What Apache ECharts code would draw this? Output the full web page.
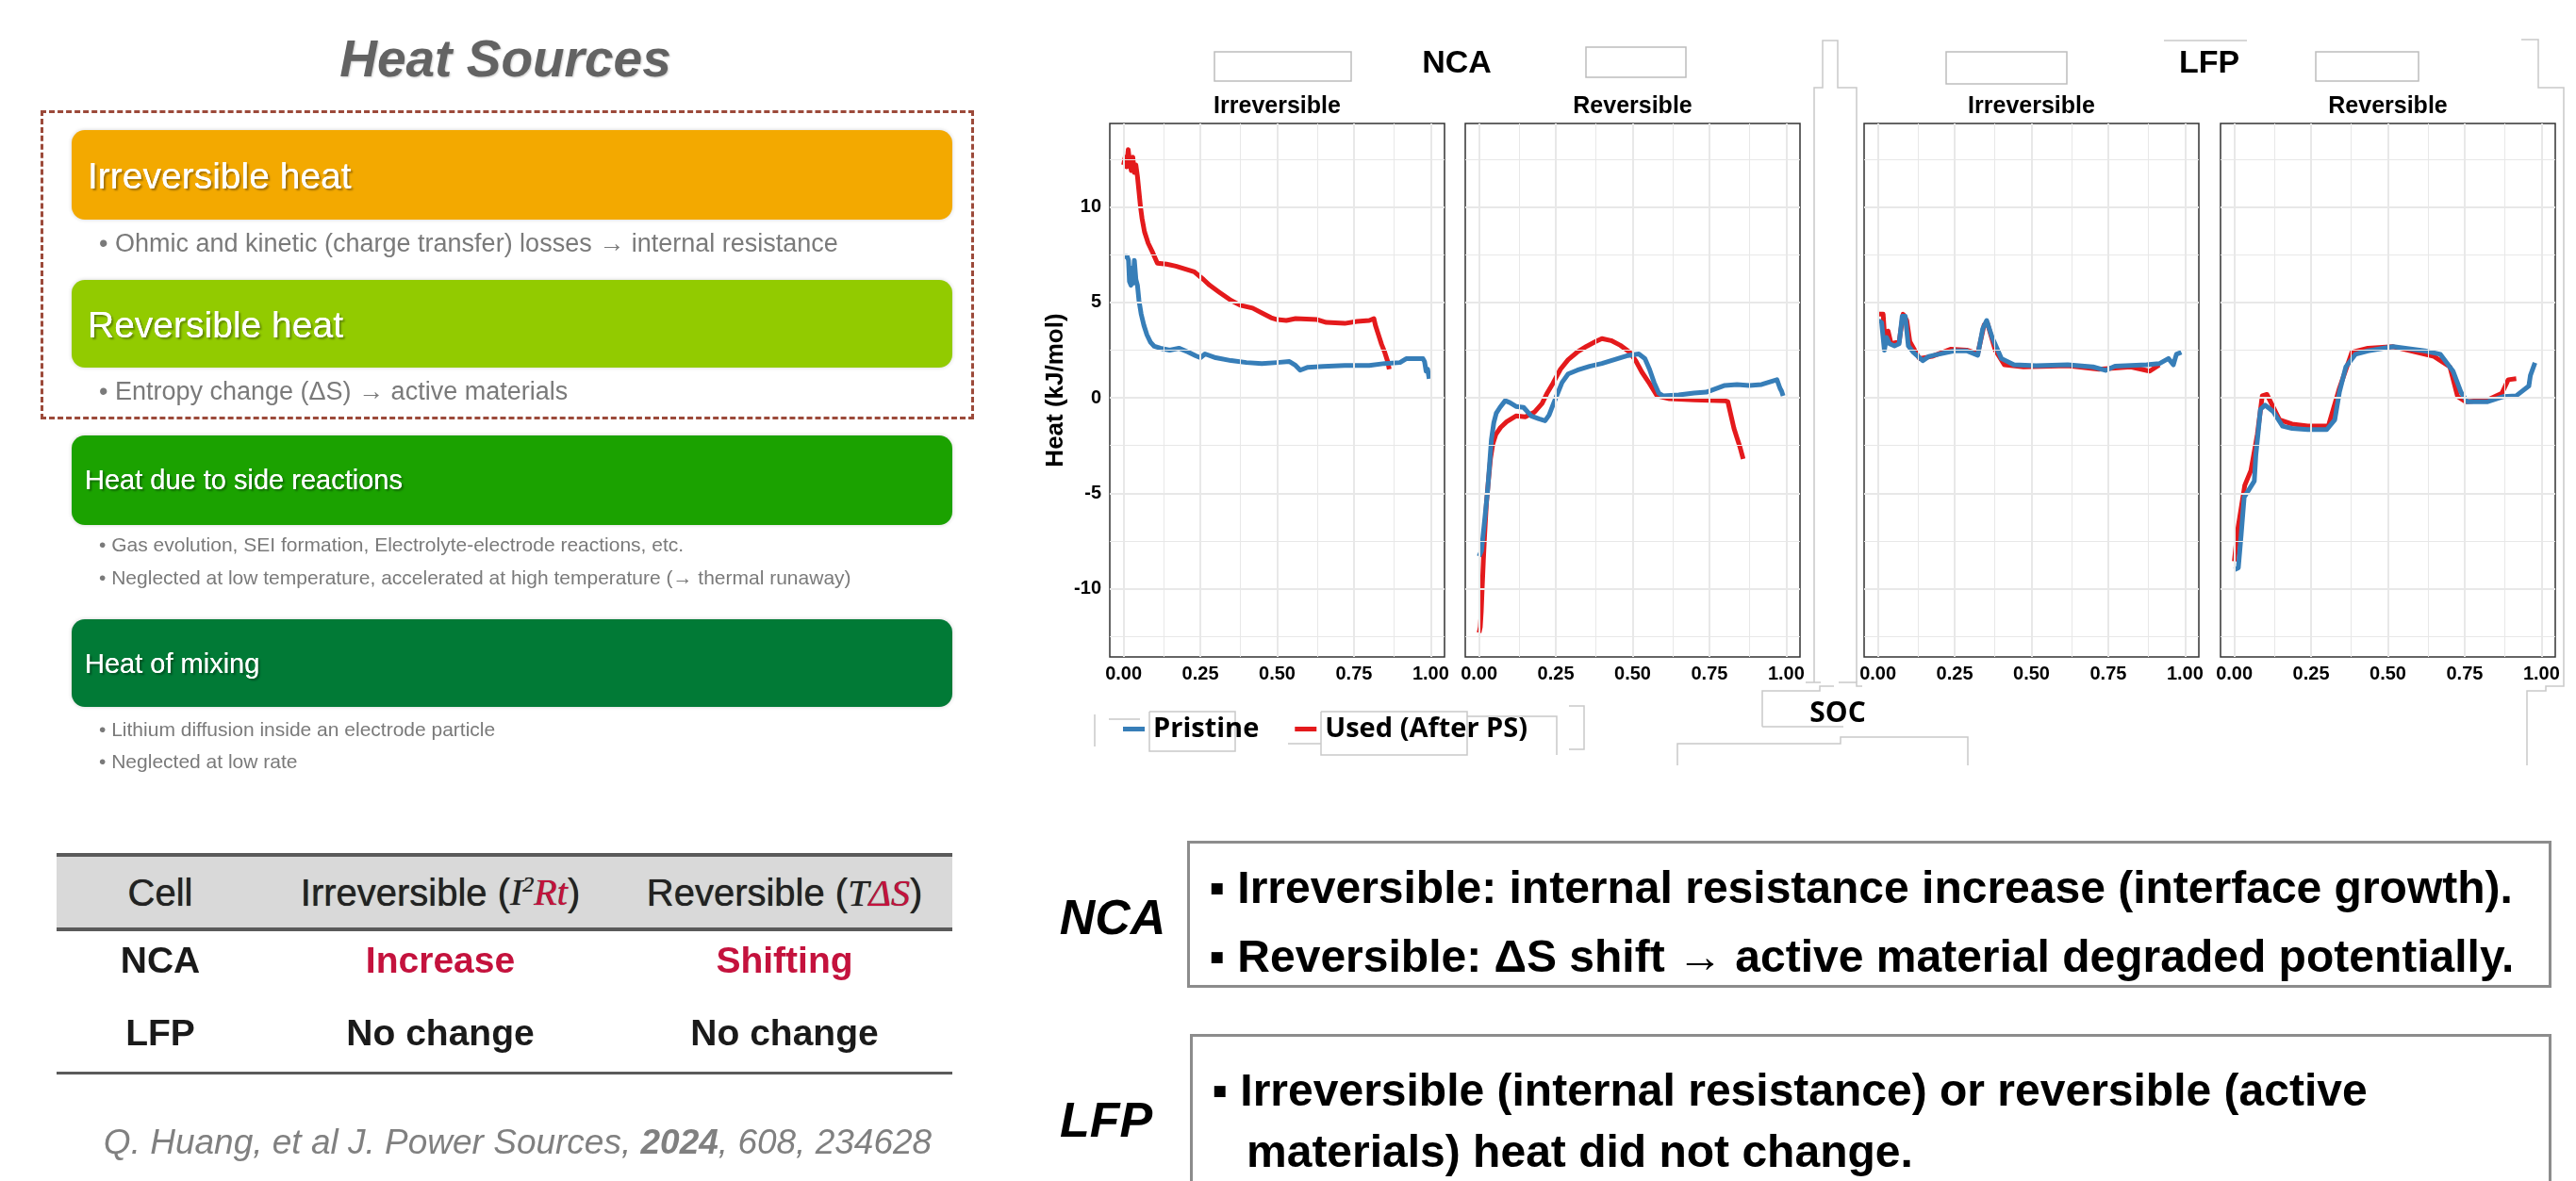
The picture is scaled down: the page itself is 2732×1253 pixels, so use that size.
<!DOCTYPE html>
<html>
<head>
<meta charset="utf-8">
<title>Heat sources - NCA / LFP</title>
<script src="https://cdn.jsdelivr.net/npm/echarts@6/dist/echarts.min.js"></script>
<style>
  html, body { margin: 0; padding: 0; background: #fff; }
  #page { position: relative; width: 2732px; height: 1253px; overflow: hidden; font-family: "Liberation Sans", Arial, sans-serif; }
  #chart { position: absolute; left: 0; top: 0; width: 2732px; height: 1253px; }
  .t { position: absolute; white-space: nowrap; line-height: 1; transform: translateY(-50%); }
  .c { transform: translate(-50%, -50%); }
  .box { position: absolute; border-radius: 14px; box-shadow: 0 0 4px rgba(0,0,0,0.18); }
  .hd { color: #fff; text-shadow: 0 0 0.6px #fff, 2px 2px 2px rgba(0,0,0,0.35); }
  .bul { color: #7a7a7a; }
  .rule { position: absolute; background: #5a5a5a; }
  .th { font-size: 40px; color: #222; text-shadow: 0 0 0.8px #222; }
  .td { font-size: 39px; font-weight: bold; color: #1a1a1a; }
  .red { color: #c4123d; }
  .m { font-family: "Liberation Serif", "Times New Roman", serif; font-style: italic; }
  .note { font-size: 48px; font-weight: bold; color: #000; }
  .tag { font-size: 52px; font-weight: bold; font-style: italic; color: #000; }
  .frame { position: absolute; border: 3px solid #8c8c8c; box-sizing: border-box; }
</style>
</head>
<body>
<div id="page">
  <div id="chart"></div>

  <!-- left: heat sources -->
  <div class="t c" style="left:536px;top:62px;font-size:55px;font-weight:bold;font-style:italic;color:#636363;text-shadow:1px 1px 2px rgba(0,0,0,0.2);">Heat Sources</div>
  <div style="position:absolute;left:43px;top:117px;width:990px;height:328px;border:3px dashed #9c4a3a;box-sizing:border-box;"></div>

  <div class="box" style="left:76px;top:138px;width:934px;height:95px;background:#f3a900;"></div>
  <div class="t hd" style="left:93px;top:186px;font-size:39px;">Irreversible heat</div>
  <div class="t bul" style="left:105px;top:258px;font-size:27px;">• Ohmic and kinetic (charge transfer) losses → internal resistance</div>

  <div class="box" style="left:76px;top:297px;width:934px;height:93px;background:#92cb00;"></div>
  <div class="t hd" style="left:93px;top:344px;font-size:39px;">Reversible heat</div>
  <div class="t bul" style="left:105px;top:415px;font-size:27px;">• Entropy change (ΔS) → active materials</div>

  <div class="box" style="left:76px;top:462px;width:934px;height:95px;background:#1ba200;"></div>
  <div class="t hd" style="left:90px;top:509px;font-size:29px;">Heat due to side reactions</div>
  <div class="t bul" style="left:105px;top:577px;font-size:21px;">• Gas evolution, SEI formation, Electrolyte-electrode reactions, etc.</div>
  <div class="t bul" style="left:105px;top:612px;font-size:21px;">• Neglected at low temperature, accelerated at high temperature (→ thermal runaway)</div>

  <div class="box" style="left:76px;top:657px;width:934px;height:93px;background:#017a36;"></div>
  <div class="t hd" style="left:90px;top:704px;font-size:29px;">Heat of mixing</div>
  <div class="t bul" style="left:105px;top:773px;font-size:21px;">• Lithium diffusion inside an electrode particle</div>
  <div class="t bul" style="left:105px;top:807px;font-size:21px;">• Neglected at low rate</div>

  <!-- table -->
  <div style="position:absolute;left:60px;top:907px;width:950px;height:79px;background:#d9d9d9;"></div>
  <div class="rule" style="left:60px;top:905px;width:950px;height:4px;"></div>
  <div class="rule" style="left:60px;top:984px;width:950px;height:4px;"></div>
  <div class="rule" style="left:60px;top:1137px;width:950px;height:3px;"></div>
  <div class="t c th" style="left:170px;top:947px;">Cell</div>
  <div class="t c th" style="left:467px;top:947px;">Irreversible (<span class="m">I<sup style="font-size:60%;">2</sup><span class="red">Rt</span></span>)</div>
  <div class="t c th" style="left:832px;top:947px;">Reversible (<span class="m">T<span class="red">ΔS</span></span>)</div>
  <div class="t c td" style="left:170px;top:1018px;">NCA</div>
  <div class="t c td red" style="left:467px;top:1018px;">Increase</div>
  <div class="t c td red" style="left:832px;top:1018px;">Shifting</div>
  <div class="t c td" style="left:170px;top:1095px;">LFP</div>
  <div class="t c td" style="left:467px;top:1095px;">No change</div>
  <div class="t c td" style="left:832px;top:1095px;">No change</div>
  <div class="t c" style="left:549px;top:1211px;font-size:37px;font-style:italic;color:#808080;">Q. Huang, et al J. Power Sources, <b>2024</b>, 608, 234628</div>

  <!-- right: conclusions -->
  <div class="t c tag" style="left:1180px;top:973px;">NCA</div>
  <div class="frame" style="left:1259px;top:892px;width:1447px;height:156px;"></div>
  <div class="t note" style="left:1282px;top:942px;">▪ Irreversible: internal resistance increase (interface growth).</div>
  <div class="t note" style="left:1282px;top:1015px;">▪ Reversible: ΔS shift → active material degraded potentially.</div>

  <div class="t c tag" style="left:1173px;top:1188px;">LFP</div>
  <div class="frame" style="left:1262px;top:1097px;width:1444px;height:180px;"></div>
  <div class="t note" style="left:1285px;top:1157px;">▪ Irreversible (internal resistance) or reversible (active</div>
  <div class="t note" style="left:1322px;top:1222px;">materials) heat did not change.</div>
</div>

<script>
// SOC (x) vs heat in kJ/mol (y)
const socTicks = [0, 0.25, 0.5, 0.75, 1]
const socMinor = [0.125, 0.375, 0.625, 0.875]
const heatTicks = [-10, -5, 0, 5, 10]
const heatMinor = [-12.5, -7.5, -2.5, 2.5, 7.5, 12.5]
const panelTitles = ['Irreversible', 'Reversible', 'Irreversible', 'Reversible']
const groupTitles = ['NCA', 'LFP']

const ncaIrrUsed = [[0.0, 12.2], [0.005, 12.6], [0.01, 12.1], [0.015, 13.0], [0.02, 12.3], [0.025, 11.9], [0.03, 12.6], [0.035, 11.8], [0.04, 12.2], [0.045, 11.6], [0.05, 10.8], [0.055, 10.0], [0.06, 9.4], [0.068, 8.7], [0.08, 8.1], [0.095, 7.6], [0.11, 7.05], [0.14, 7.0], [0.17, 6.9], [0.2, 6.75], [0.23, 6.6], [0.26, 6.2], [0.28, 5.9], [0.31, 5.55], [0.35, 5.1], [0.38, 4.85], [0.42, 4.7], [0.45, 4.45], [0.48, 4.2], [0.5, 4.1], [0.53, 4.05], [0.56, 4.15], [0.63, 4.1], [0.66, 3.95], [0.72, 3.9], [0.76, 4.0], [0.8, 4.05], [0.815, 4.15], [0.82, 3.8], [0.83, 3.3], [0.84, 2.8], [0.85, 2.4], [0.86, 1.9], [0.865, 1.5]]
const ncaIrrPristine = [[0.002, 7.4], [0.012, 7.4], [0.016, 7.2], [0.019, 6.1], [0.024, 5.9], [0.028, 6.8], [0.031, 6.0], [0.035, 7.2], [0.04, 6.2], [0.045, 5.9], [0.05, 5.1], [0.057, 4.4], [0.066, 3.8], [0.076, 3.3], [0.088, 2.9], [0.1, 2.7], [0.12, 2.6], [0.15, 2.5], [0.18, 2.6], [0.21, 2.4], [0.235, 2.2], [0.25, 2.1], [0.265, 2.3], [0.3, 2.1], [0.35, 1.95], [0.4, 1.85], [0.45, 1.8], [0.5, 1.85], [0.54, 1.9], [0.56, 1.7], [0.575, 1.45], [0.6, 1.6], [0.65, 1.65], [0.72, 1.7], [0.8, 1.7], [0.85, 1.8], [0.9, 1.85], [0.92, 2.05], [0.975, 2.05], [0.98, 1.9], [0.985, 1.4], [0.99, 1.5], [0.995, 1.0]]
const ncaRevUsed = [[0.0, -12.3], [0.004, -12.0], [0.007, -11.2], [0.01, -10.0], [0.014, -8.5], [0.018, -7.2], [0.024, -5.5], [0.03, -4.4], [0.037, -3.2], [0.045, -2.4], [0.055, -1.9], [0.07, -1.55], [0.09, -1.25], [0.12, -0.95], [0.15, -1.0], [0.18, -0.75], [0.205, -0.3], [0.22, 0.2], [0.24, 0.75], [0.265, 1.5], [0.29, 2.0], [0.32, 2.4], [0.35, 2.7], [0.38, 2.95], [0.4, 3.1], [0.43, 3.0], [0.46, 2.75], [0.49, 2.4], [0.51, 1.95], [0.53, 1.35], [0.555, 0.75], [0.58, 0.1], [0.62, -0.05], [0.7, -0.1], [0.8, -0.15], [0.81, -0.2], [0.82, -0.9], [0.83, -1.6], [0.84, -2.1], [0.85, -2.6], [0.86, -3.2]]
const ncaRevPristine = [[0.0, -8.3], [0.008, -8.0], [0.013, -7.2], [0.02, -6.1], [0.028, -4.8], [0.035, -3.3], [0.04, -2.2], [0.048, -1.3], [0.056, -0.8], [0.068, -0.5], [0.085, -0.15], [0.1, -0.25], [0.12, -0.45], [0.145, -0.5], [0.17, -0.95], [0.195, -1.1], [0.215, -1.2], [0.228, -0.9], [0.24, -0.4], [0.255, 0.2], [0.27, 0.8], [0.29, 1.25], [0.32, 1.45], [0.36, 1.65], [0.4, 1.8], [0.44, 2.0], [0.48, 2.2], [0.52, 2.3], [0.54, 2.05], [0.555, 1.5], [0.57, 0.8], [0.585, 0.25], [0.6, 0.1], [0.65, 0.15], [0.7, 0.25], [0.74, 0.3], [0.8, 0.65], [0.84, 0.7], [0.88, 0.65], [0.92, 0.7], [0.97, 0.95], [0.976, 0.95], [0.98, 0.5], [0.985, 0.35], [0.99, 0.1]]
const lfpIrrUsed = [[0.002, 4.38], [0.017, 4.38], [0.023, 2.94], [0.033, 3.5], [0.043, 2.83], [0.069, 2.94], [0.082, 4.38], [0.094, 4.05], [0.104, 2.94], [0.135, 2.06], [0.176, 2.17], [0.238, 2.55], [0.289, 2.5], [0.325, 2.32], [0.346, 3.83], [0.356, 3.94], [0.382, 2.5], [0.412, 1.73], [0.474, 1.62], [0.618, 1.68], [0.72, 1.5], [0.823, 1.62], [0.885, 1.4], [0.916, 1.73]]
const lfpIrrPristine = [[0.002, 4.05], [0.012, 3.94], [0.021, 2.5], [0.028, 3.16], [0.038, 2.83], [0.054, 2.72], [0.069, 2.83], [0.079, 4.27], [0.089, 4.27], [0.099, 2.72], [0.115, 2.39], [0.146, 1.95], [0.166, 2.17], [0.197, 2.28], [0.248, 2.46], [0.289, 2.46], [0.325, 2.23], [0.341, 3.6], [0.354, 4.05], [0.372, 3.16], [0.402, 2.06], [0.443, 1.73], [0.515, 1.68], [0.618, 1.73], [0.7, 1.62], [0.741, 1.44], [0.772, 1.66], [0.875, 1.73], [0.916, 1.79], [0.946, 2.06], [0.962, 1.73], [0.972, 2.28], [0.988, 2.39]]
const lfpRevUsed = [[0.0, -8.56], [0.011, -6.9], [0.034, -4.58], [0.054, -3.8], [0.075, -1.9], [0.091, 0.11], [0.106, 0.18], [0.147, -1.15], [0.188, -1.37], [0.239, -1.48], [0.306, -1.48], [0.342, 0.5], [0.383, 2.39], [0.435, 2.6], [0.517, 2.68], [0.65, 2.17], [0.702, 1.62], [0.727, 0.07], [0.753, -0.2], [0.825, -0.11], [0.871, 0.24], [0.892, 0.95], [0.918, 1.0]]
const lfpRevPristine = [[0.0, -9.0], [0.013, -8.9], [0.022, -7.2], [0.032, -5.2], [0.044, -4.9], [0.065, -4.36], [0.07, -3.0], [0.085, -0.6], [0.1, -0.38], [0.126, -0.71], [0.157, -1.48], [0.188, -1.6], [0.239, -1.66], [0.301, -1.66], [0.327, -1.15], [0.342, 0.29], [0.363, 1.62], [0.394, 2.28], [0.435, 2.46], [0.517, 2.68], [0.62, 2.46], [0.671, 2.28], [0.712, 1.4], [0.738, 0.29], [0.758, -0.2], [0.825, -0.2], [0.877, 0.07], [0.918, 0.11], [0.959, 0.62], [0.964, 1.17], [0.979, 1.84]]

const usedByPanel = [ncaIrrUsed, ncaRevUsed, lfpIrrUsed, lfpRevUsed]
const pristineByPanel = [ncaIrrPristine, ncaRevPristine, lfpIrrPristine, lfpRevPristine]

const FONT = '"Liberation Sans", Arial, sans-serif'
const LEGEND_FONT = '"Open Sans", "Liberation Sans", sans-serif'
const BLUE = '#377eb8'
const RED = '#e41a1c'
const panelLeft = [1177, 1554, 1977, 2355]
const panelWidth = 355
const panelTop = 131
const panelHeight = 566

const chart = echarts.init(document.getElementById('chart'))

function gridLineSeries (i) {
  const lines = []
  socMinor.forEach(v => lines.push({ xAxis: v, lineStyle: { width: 1 } }))
  heatMinor.forEach(v => lines.push({ yAxis: v, lineStyle: { width: 1 } }))
  socTicks.forEach(v => lines.push({ xAxis: v, lineStyle: { width: 2 } }))
  heatTicks.forEach(v => lines.push({ yAxis: v, lineStyle: { width: 2 } }))
  return {
    type: 'line',
    xAxisIndex: i,
    yAxisIndex: i,
    data: [],
    silent: true,
    z: 1,
    markLine: {
      silent: true,
      symbol: 'none',
      animation: false,
      label: { show: false },
      lineStyle: { color: '#e8e8e8', type: 'solid' },
      data: lines
    }
  }
}

function dataSeries (name, data, color, i) {
  return {
    name: name,
    type: 'line',
    xAxisIndex: i,
    yAxisIndex: i,
    data: data,
    showSymbol: false,
    color: color,
    lineStyle: { width: 5, color: color, join: 'round' },
    z: 3,
    animation: false
  }
}

const grids = []
const xAxes = []
const yAxes = []
const series = []
const graphics = []

for (let i = 0; i < 4; i++) {
  grids.push({
    left: panelLeft[i],
    top: panelTop,
    width: panelWidth,
    height: panelHeight,
    show: true,
    borderColor: '#333333',
    borderWidth: 1.5,
    backgroundColor: 'transparent'
  })
  xAxes.push({
    type: 'value',
    gridIndex: i,
    min: -0.045,
    max: 1.045,
    axisLine: { show: false },
    splitLine: { show: false },
    axisTick: { show: true, customValues: socTicks, length: 5, lineStyle: { color: '#333', width: 1.5 } },
    axisLabel: {
      customValues: socTicks,
      formatter: v => v.toFixed(2),
      fontFamily: FONT,
      fontWeight: 'bold',
      fontSize: 20,
      color: '#000',
      margin: 8
    }
  })
  yAxes.push({
    type: 'value',
    gridIndex: i,
    min: -13.57,
    max: 14.37,
    axisLine: { show: false },
    splitLine: { show: false },
    axisTick: { show: i === 0, customValues: heatTicks, length: 5, lineStyle: { color: '#333', width: 1.5 } },
    axisLabel: {
      show: i === 0,
      customValues: heatTicks,
      fontFamily: FONT,
      fontWeight: 'bold',
      fontSize: 20,
      color: '#000',
      margin: 9
    },
    name: i === 0 ? 'Heat (kJ/mol)' : '',
    nameLocation: 'middle',
    nameRotate: 90,
    nameGap: 44,
    nameTextStyle: { fontFamily: FONT, fontWeight: 'bold', fontSize: 26, color: '#000' }
  })
  series.push(gridLineSeries(i))
  series.push(dataSeries('Used (After PS)', usedByPanel[i], RED, i))
  series.push(dataSeries('Pristine', pristineByPanel[i], BLUE, i))

  graphics.push({
    type: 'text',
    x: panelLeft[i] + panelWidth / 2,
    y: 113,
    style: { text: panelTitles[i], fontFamily: FONT, fontWeight: 'bold', fontSize: 25, fill: '#000', align: 'center', verticalAlign: 'middle' }
  })
}

// group titles
graphics.push({ type: 'text', x: 1545, y: 68, style: { text: groupTitles[0], fontFamily: FONT, fontWeight: 'bold', fontSize: 34, fill: '#000', align: 'center', verticalAlign: 'middle' } })
graphics.push({ type: 'text', x: 2343, y: 68, style: { text: groupTitles[1], fontFamily: FONT, fontWeight: 'bold', fontSize: 34, fill: '#000', align: 'center', verticalAlign: 'middle' } })
graphics.push({ type: 'text', x: 1949, y: 757, style: { text: 'SOC', fontFamily: LEGEND_FONT, fontWeight: 'bold', fontSize: 30, fill: '#000', align: 'center', verticalAlign: 'middle' } })

// leftover frames of the pasted picture
const frameStyle = { fill: 'none', stroke: '#c9c9c9', lineWidth: 1.5 }
const boxStyle = { fill: '#fff', stroke: '#bdbdbd', lineWidth: 1.5 }
graphics.push({ type: 'rect', shape: { x: 1288, y: 55, width: 145, height: 31 }, style: boxStyle })
graphics.push({ type: 'rect', shape: { x: 1682, y: 50, width: 106, height: 32 }, style: boxStyle })
graphics.push({ type: 'rect', shape: { x: 2064, y: 55, width: 128, height: 34 }, style: boxStyle })
graphics.push({ type: 'rect', shape: { x: 2456, y: 55, width: 109, height: 31 }, style: boxStyle })
const framePaths = [
  [[1924, 724], [1924, 93], [1933, 93], [1933, 43], [1949, 43], [1949, 93], [1969, 93], [1969, 724]],
  [[1915, 724], [1931, 724]],
  [[1950, 724], [1969, 724], [1969, 728], [1975, 728]],
  [[2295, 43], [2383, 43]],
  [[2674, 42], [2692, 42], [2692, 93], [2719, 93], [2719, 728], [2700, 728], [2700, 733], [2680, 733], [2680, 812]],
  [[1869, 771], [1869, 733], [1930, 733], [1930, 728], [1945, 728]],
  [[1869, 771], [1955, 771]],
  [[1779, 812], [1779, 789], [1952, 789], [1952, 782], [2087, 782], [2087, 812]],
  [[1161, 758], [1161, 792]],
  [[1176, 763], [1209, 763]],
  [[1219, 755], [1310, 755], [1310, 797], [1219, 797], [1219, 755]],
  [[1366, 789], [1401, 789]],
  [[1401, 755], [1556, 755], [1556, 801], [1401, 801], [1401, 755]],
  [[1556, 760], [1651, 760], [1651, 801]],
  [[1664, 749], [1680, 749], [1680, 795], [1664, 795]]
]
framePaths.forEach(p => graphics.push({ type: 'polyline', shape: { points: p }, style: frameStyle, z: -1 }))

chart.setOption({
  animation: false,
  backgroundColor: 'transparent',
  grid: grids,
  xAxis: xAxes,
  yAxis: yAxes,
  legend: {
    data: ['Pristine', 'Used (After PS)'],
    left: 1186,
    top: 754,
    icon: 'rect',
    itemWidth: 23,
    itemHeight: 5,
    itemGap: 38,
    textStyle: { fontFamily: LEGEND_FONT, fontWeight: 'bold', fontSize: 29, color: '#000', padding: [0, 0, 0, 4] }
  },
  series: series,
  graphic: graphics
})
</script>
</body>
</html>
